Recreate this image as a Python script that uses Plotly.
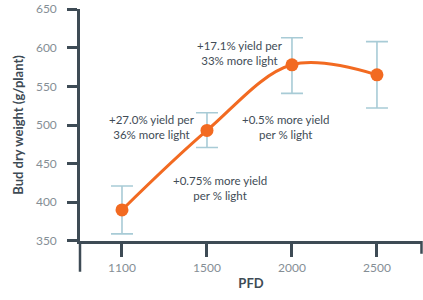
import plotly.graph_objects as go

pfd = ["1100", "1500", "2000", "2500"]
bud_weight = [390, 493, 578, 565]
err_plus = [31, 23, 35, 43]
err_minus = [31, 22, 37, 43]

ann_text = [
    "+27.0% yield per<br>36% more light",
    "+17.1% yield per<br>33% more light",
    "+0.5% more yield<br>per % light",
    "+0.75% more yield<br>per % light",
]
ann_x = [0.353, 1.388, 1.918, 1.153]
ann_y = [497, 593, 497, 419]

ORANGE = "#F26A21"
ERR = "#A8CBD6"
AXIS = "#3E4B55"
TICK = "#858E95"
TXT = "#414C56"

fig = go.Figure()
fig.add_trace(go.Scatter(
    x=pfd, y=bud_weight, mode="markers",
    marker=dict(size=1, color="rgba(0,0,0,0)"),
    error_y=dict(type="data", array=err_plus, arrayminus=err_minus,
                 color=ERR, thickness=1.6, width=11, symmetric=False),
    showlegend=False, hoverinfo="skip"))
fig.add_trace(go.Scatter(
    x=pfd, y=bud_weight, mode="lines+markers",
    line=dict(color=ORANGE, width=3, shape="spline", smoothing=1.0),
    marker=dict(size=13, color=ORANGE),
    showlegend=False))

for t, x, y in zip(ann_text, ann_x, ann_y):
    fig.add_annotation(x=x, y=y, xref="x", yref="y", text=t, showarrow=False,
                       font=dict(family="Lato", size=11.5, color=TXT),
                       align="center")

fig.add_shape(type="line", xref="paper", yref="paper", x0=0, x1=0, y0=0, y1=-0.1325,
              line=dict(color=AXIS, width=2.5))
fig.add_shape(type="line", xref="paper", yref="paper", x0=0.9985, x1=0.9985, y0=0, y1=-0.055,
              line=dict(color=AXIS, width=2.5))

fig.update_layout(
    width=423, height=300,
    margin=dict(l=80, r=1, t=7, b=59),
    paper_bgcolor="white", plot_bgcolor="white",
    font=dict(family="Lato", color=TICK, size=12),
    xaxis=dict(type="category", range=[-0.494, 3.53], showgrid=False, zeroline=False,
               showline=True, linecolor=AXIS, linewidth=2.5,
               ticks="outside", ticklen=13, tickwidth=2.5, tickcolor=AXIS,
               tickfont=dict(family="Lato", size=12, color=TICK), ticklabelstandoff=1,
               title=dict(text="<b>PFD</b>", font=dict(family="Lato", size=13, color=AXIS), standoff=5)),
    yaxis=dict(range=[349.8, 650.3], tickvals=[350, 400, 450, 500, 550, 600, 650],
               showgrid=False, zeroline=False, ticklabeloverflow="allow",
               showline=True, linecolor=AXIS, linewidth=2.5,
               ticks="outside", ticklen=10, tickwidth=2.5, tickcolor=AXIS,
               tickfont=dict(family="Lato", size=12, color=TICK), ticklabelstandoff=8,
               title=dict(text="<b>Bud dry weight (g/plant)</b>", font=dict(family="Lato", size=13, color=AXIS), standoff=10)),
)

fig.write_html("out.html")
